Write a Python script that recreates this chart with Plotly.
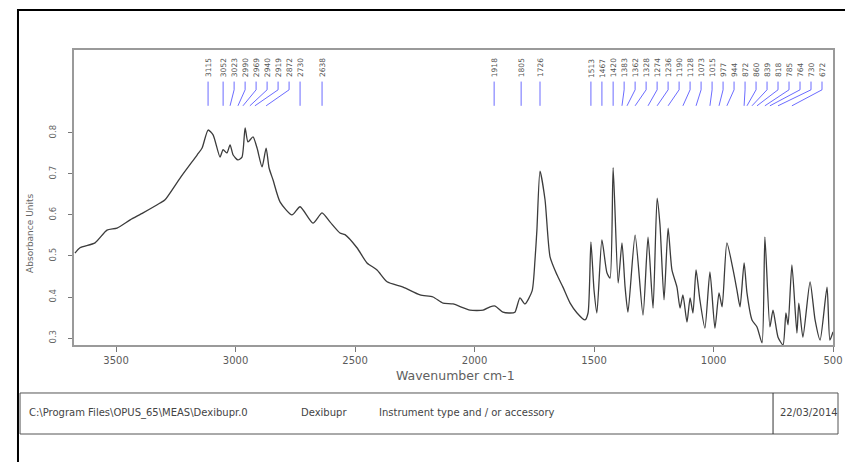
import plotly.graph_objects as go

# ---- spectrum ----
wavenumber = [3672, 3651, 3588, 3538, 3496, 3441, 3387, 3316, 3295, 3232, 3161, 3140, 3115, 3094,
              3065, 3052, 3036, 3023, 3010, 2990, 2973, 2960, 2948, 2927, 2910, 2889, 2872, 2860,
              2843, 2814, 2764, 2730, 2676, 2638, 2605, 2563, 2542, 2492, 2450, 2408, 2366, 2299,
              2228, 2174, 2132, 2090, 2019, 1964, 1935, 1914, 1881, 1851, 1831, 1810, 1789, 1759,
              1747, 1739, 1726, 1705, 1684, 1655, 1630, 1600, 1571, 1538, 1525, 1513, 1500, 1488,
              1467, 1446, 1433, 1420, 1399, 1383, 1370, 1358, 1328, 1295, 1274, 1253, 1236, 1224,
              1207, 1190, 1174, 1153, 1140, 1128, 1111, 1098, 1086, 1073, 1057, 1036, 1015, 994,
              977, 964, 944, 918, 902, 889, 872, 860, 839, 818, 797, 785, 764, 751, 730, 709,
              697, 688, 672, 651, 643, 626, 596, 575, 554, 525, 513, 500]
absorbance = [0.507, 0.520, 0.532, 0.563, 0.568, 0.588, 0.605, 0.629, 0.637, 0.690, 0.746, 0.763, 0.807, 0.795,
              0.741, 0.759, 0.751, 0.771, 0.746, 0.734, 0.741, 0.812, 0.778, 0.790, 0.763, 0.717, 0.763, 0.715,
              0.685, 0.632, 0.600, 0.620, 0.580, 0.605, 0.583, 0.556, 0.552, 0.520, 0.483, 0.466, 0.437, 0.424,
              0.405, 0.400, 0.385, 0.383, 0.368, 0.368, 0.376, 0.378, 0.363, 0.361, 0.363, 0.398, 0.383, 0.415,
              0.490, 0.563, 0.707, 0.637, 0.498, 0.454, 0.424, 0.385, 0.361, 0.344, 0.361, 0.534, 0.417, 0.361,
              0.539, 0.459, 0.446, 0.715, 0.434, 0.532, 0.424, 0.363, 0.551, 0.356, 0.546, 0.373, 0.641, 0.576,
              0.393, 0.568, 0.466, 0.424, 0.373, 0.405, 0.339, 0.398, 0.361, 0.466, 0.393, 0.324, 0.461, 0.324,
              0.410, 0.376, 0.532, 0.466, 0.417, 0.376, 0.483, 0.410, 0.344, 0.327, 0.288, 0.546, 0.327, 0.368,
              0.302, 0.283, 0.361, 0.332, 0.478, 0.312, 0.385, 0.302, 0.437, 0.344, 0.295, 0.424, 0.295, 0.315]

# ---- peak picks ----
peaks_left = [3115, 3052, 3023, 2990, 2969, 2940, 2919, 2872, 2730, 2638]
peaks_mid = [1918, 1805, 1726]
peaks_right = [1513, 1467, 1420, 1383, 1362, 1328, 1274, 1236, 1190, 1128, 1073, 1015,
               977, 944, 872, 860, 839, 818, 785, 764, 730, 672]

x_ticks = [3500, 3000, 2500, 2000, 1500, 1000, 500]
y_ticks = [0.3, 0.4, 0.5, 0.6, 0.7, 0.8]

footer_path = "C:\\Program Files\\OPUS_65\\MEAS\\Dexibupr.0"
footer_name = "Dexibupr"
footer_instr = "Instrument type and / or accessory"
footer_date = "22/03/2014"

# ---- label placement (spread crowded labels) ----
peaks = sorted(peaks_left + peaks_mid + peaks_right, reverse=True)
gap = 46
label_x = []
for p in peaks:
    if not label_x:
        label_x.append(p)
    else:
        label_x.append(min(p, label_x[-1] - gap))

y_top, y_mid, y_bot = 0.925, 0.905, 0.866
cx, cy = [], []
for p, lx in zip(peaks, label_x):
    cx += [lx, lx, p, None]
    cy += [y_top, y_mid, y_bot, None]

FONT = "DejaVu Sans"

fig = go.Figure()
fig.add_trace(go.Scatter(x=wavenumber, y=absorbance, mode="lines",
                         line=dict(color="#3c3c3c", width=1.3, shape="spline", smoothing=0.6),
                         hoverinfo="skip", showlegend=False))
fig.add_trace(go.Scatter(x=cx, y=cy, mode="lines",
                         line=dict(color="rgba(70,70,255,0.8)", width=1),
                         hoverinfo="skip", showlegend=False))

ann = []
for p, lx in zip(peaks, label_x):
    ann.append(dict(x=lx, y=0.93, xref="x", yref="y", text=str(p), showarrow=False,
                    textangle=-90, xanchor="center", yanchor="bottom",
                    font=dict(size=7.5, color="#555555", family=FONT)))

ann.append(dict(x=0.502, y=-0.102, xref="paper", yref="paper", text="Wavenumber cm-1",
                showarrow=False, font=dict(size=12.5, color="#606060", family=FONT),
                xanchor="center", yanchor="middle"))
ann.append(dict(x=-0.058, y=0.38, xref="paper", yref="paper", text="Absorbance Units",
                showarrow=False, textangle=-90, font=dict(size=9, color="#666666", family=FONT),
                xanchor="center", yanchor="middle"))

fy = -0.2305
for txt, fx in [(footer_path, -0.062), (footer_name, 0.296), (footer_instr, 0.399), (footer_date, 0.928)]:
    ann.append(dict(x=fx, y=fy, xref="paper", yref="paper", text=txt, showarrow=False,
                    xanchor="left", yanchor="middle", font=dict(size=10, color="#444444", family=FONT)))

shapes = [
    # outer black frame
    dict(type="rect", xref="paper", yref="paper", x0=-0.0738, x1=1.03, y0=-0.45, y1=1.1356,
         line=dict(color="black", width=2)),
    # footer box
    dict(type="rect", xref="paper", yref="paper", x0=-0.0711, x1=1.0066, y0=-0.3017, y1=-0.1627,
         line=dict(color="#555555", width=1)),
    dict(type="line", xref="paper", yref="paper", x0=0.921, x1=0.921, y0=-0.3017, y1=-0.1627,
         line=dict(color="#333333", width=1)),
]

fig.update_layout(
    width=845, height=462,
    margin=dict(l=74, r=12, t=50, b=117),
    paper_bgcolor="white", plot_bgcolor="white",
    font=dict(family=FONT, color="#555555"),
    annotations=ann, shapes=shapes,
    xaxis=dict(range=[3676, 500], tickvals=x_ticks, ticktext=[str(v) for v in x_ticks],
               showgrid=False, zeroline=False, showline=True, mirror=True, automargin=False,
               linecolor="#9a9a9a", linewidth=1.5, ticks="outside", ticklen=5,
               tickcolor="#777777", tickfont=dict(size=10, color="#5a5a5a", family=FONT)),
    yaxis=dict(range=[0.283, 1.002], tickvals=y_ticks, ticktext=[str(v) for v in y_ticks],
               showgrid=False, zeroline=False, showline=True, mirror=True, automargin=False,
               linecolor="#9a9a9a", linewidth=1.5, ticks="outside", ticklen=4,
               tickcolor="#777777", tickangle=-90, ticklabelstandoff=9,
               tickfont=dict(size=8.5, color="#666666", family=FONT)),
)

fig.write_html("out.html", config={"displayModeBar": False},
               post_script="document.body.style.margin='0';document.body.style.overflow='hidden';")
